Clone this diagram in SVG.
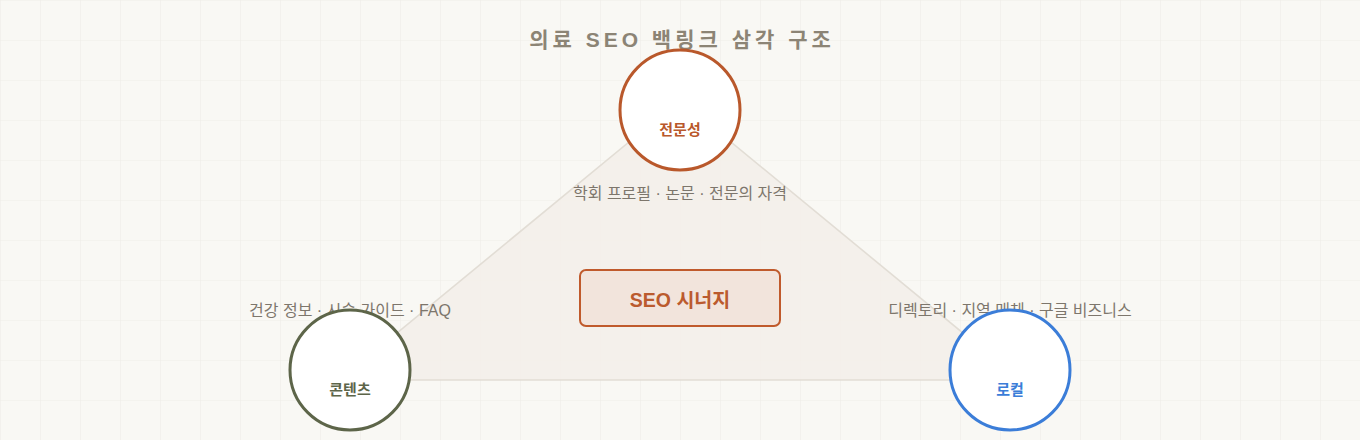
<svg xmlns="http://www.w3.org/2000/svg" width="1360" height="440" viewBox="0 0 1360 440">
  <defs>
    <pattern id="grid" width="40" height="40" patternUnits="userSpaceOnUse">
      <path d="M40 0 L0 0 L0 40" fill="none" stroke="#efede7" stroke-width="1.2"/>
    </pattern>
    <style>
      text { font-family: "Liberation Sans", "Noto Sans CJK KR", sans-serif; text-anchor: middle; }
      .title { font-size: 21px; font-weight: 700; fill: #8c8475; letter-spacing: 4px; }
      .lbl { font-size: 16px; fill: #7d766c; }
      .node { fill: #ffffff; stroke-width: 3; }
      .ntext { font-size: 15px; font-weight: 700; }
      .edge { fill: none; stroke: #e2ddd5; stroke-width: 1.6; }
    </style>
  </defs>
  <rect width="1360" height="440" fill="#f9f8f4"/>
  <rect width="1360" height="440" fill="url(#grid)"/>
  <text class="title" x="682" y="47">의료 SEO 백링크 삼각 구조</text>

  <g id="connectors">
    <polygon points="680,100 340,380 1020,380" fill="#f3eee9" fill-opacity="0.85"/>
    <polygon class="edge" points="680,100 340,380 1020,380"/>
  </g>

  <g id="label-expertise"><text class="lbl" x="680" y="199">학회 프로필 · 논문 · 전문의 자격</text></g>
  <g id="label-content"><text class="lbl" x="350" y="316">건강 정보 · 시술 가이드 · FAQ</text></g>
  <g id="label-local"><text class="lbl" x="1010" y="316">디렉토리 · 지역 매체 · 구글 비즈니스</text></g>

  <g id="synergy">
    <rect x="580" y="270" width="200" height="56" rx="6" fill="#f2e4dc" stroke="#c05a2c" stroke-width="2"/>
    <text x="680" y="307" font-size="19.5" font-weight="700" fill="#bb5a2e">SEO 시너지</text>
  </g>

  <g id="node-expertise">
    <circle class="node" cx="680" cy="110" r="60" stroke="#b9582b"/>
    <text class="ntext" x="680" y="135" fill="#b9582b">전문성</text>
  </g>
  <g id="node-content">
    <circle class="node" cx="350" cy="370" r="60" stroke="#5d6549"/>
    <text class="ntext" x="350" y="395" fill="#5d6549">콘텐츠</text>
  </g>
  <g id="node-local">
    <circle class="node" cx="1010" cy="370" r="60" stroke="#3b7dd8"/>
    <text class="ntext" x="1010" y="395" fill="#3b7dd8">로컬</text>
  </g>
</svg>
